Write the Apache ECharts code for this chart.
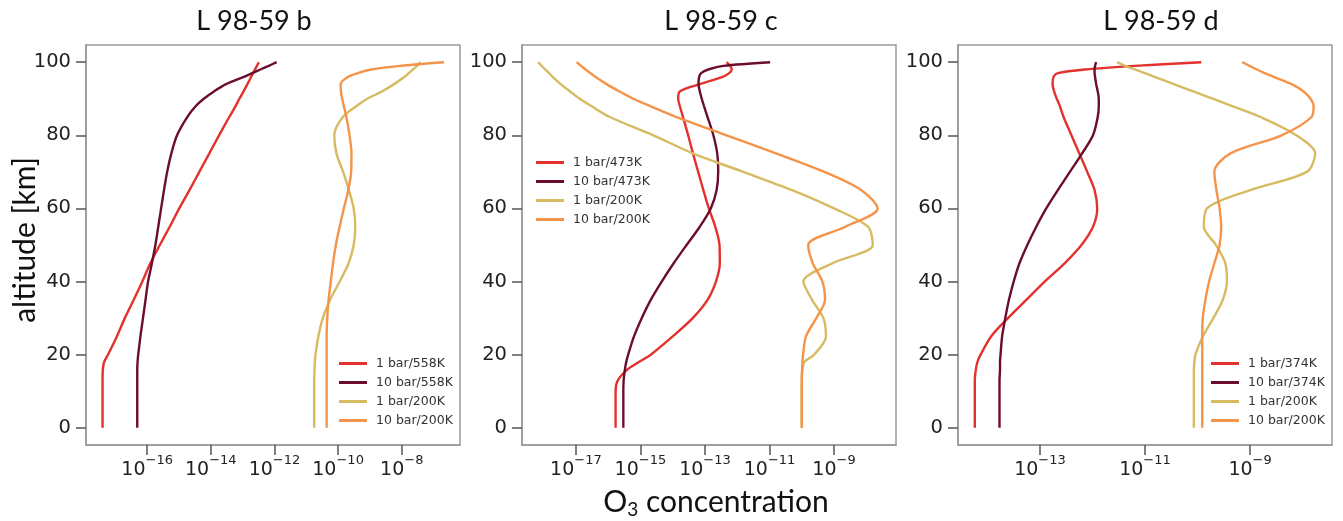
<!DOCTYPE html>
<html>
<head>
<meta charset="utf-8">
<script src="https://cdn.jsdelivr.net/npm/echarts@6/dist/echarts.min.js"></script>
<style>
  html, body { margin: 0; padding: 0; background: #fff; }
  #main { width: 1343px; height: 521px; }
</style>
</head>
<body>
<div id="main"></div>
<script>
// altitude levels [km], shared by every profile
const altitudes = [0, 5, 10, 13, 16, 18, 20, 25, 30, 35, 40, 45, 50, 55, 60, 65, 70, 75, 80, 85, 88, 90, 92, 94, 96, 97, 98, 99, 100]

// log10 of O3 concentration
// L 98-59 b
const b_1bar558 = [-17.40, -17.40, -17.40, -17.40, -17.39, -17.35, -17.23, -16.95, -16.70, -16.42, -16.15, -15.90, -15.60, -15.29, -14.99, -14.67, -14.36, -14.05, -13.74, -13.42, -13.22, -13.10, -12.97, -12.85, -12.73, -12.67, -12.61, -12.55, -12.49]
const b_10bar558 = [-16.31, -16.31, -16.31, -16.31, -16.31, -16.30, -16.28, -16.21, -16.13, -16.05, -15.97, -15.85, -15.74, -15.65, -15.56, -15.47, -15.37, -15.24, -15.06, -14.74, -14.47, -14.22, -13.90, -13.52, -12.96, -12.70, -12.44, -12.18, -11.93]
const b_1bar200 = [-10.75, -10.75, -10.75, -10.75, -10.74, -10.73, -10.71, -10.62, -10.48, -10.25, -9.95, -9.67, -9.51, -9.46, -9.51, -9.66, -9.84, -10.05, -10.12, -9.85, -9.42, -9.08, -8.62, -8.24, -7.91, -7.78, -7.65, -7.52, -7.41]
const b_10bar200 = [-10.36, -10.36, -10.36, -10.36, -10.36, -10.36, -10.36, -10.36, -10.34, -10.30, -10.23, -10.16, -10.07, -9.95, -9.82, -9.68, -9.59, -9.58, -9.64, -9.74, -9.82, -9.87, -9.91, -9.92, -9.68, -9.38, -8.96, -8.05, -6.67]
// L 98-59 c
const c_1bar473 = [-15.77, -15.77, -15.77, -15.70, -15.40, -15.05, -14.68, -14.00, -13.38, -12.92, -12.66, -12.54, -12.55, -12.68, -12.88, -13.05, -13.21, -13.37, -13.52, -13.68, -13.78, -13.83, -13.78, -13.15, -12.45, -12.25, -12.17, -12.22, -12.33]
const c_10bar473 = [-15.53, -15.53, -15.53, -15.52, -15.48, -15.44, -15.38, -15.20, -14.96, -14.68, -14.34, -13.97, -13.57, -13.16, -12.82, -12.64, -12.59, -12.62, -12.74, -12.92, -13.03, -13.10, -13.16, -13.20, -13.18, -13.12, -12.90, -12.43, -10.98]
const c_1bar200 = [-10.00, -10.00, -10.00, -10.00, -9.98, -9.92, -9.62, -9.25, -9.33, -9.68, -9.95, -9.05, -7.80, -7.95, -9.00, -10.30, -11.81, -13.36, -14.60, -15.95, -16.52, -16.88, -17.18, -17.47, -17.72, -17.83, -17.95, -18.06, -18.17]
const c_10bar200 = [-10.00, -10.00, -10.00, -10.00, -9.99, -9.98, -9.96, -9.87, -9.55, -9.28, -9.36, -9.66, -9.80, -8.65, -7.65, -8.15, -9.30, -10.78, -12.33, -13.88, -14.70, -15.22, -15.65, -16.05, -16.40, -16.55, -16.70, -16.84, -16.98]
// L 98-59 d
const d_1bar374 = [-14.24, -14.24, -14.24, -14.24, -14.22, -14.19, -14.13, -13.93, -13.61, -13.26, -12.91, -12.53, -12.21, -11.99, -11.91, -11.96, -12.10, -12.25, -12.40, -12.55, -12.62, -12.68, -12.73, -12.76, -12.74, -12.66, -12.14, -11.20, -9.93]
const d_10bar374 = [-13.77, -13.77, -13.77, -13.77, -13.76, -13.76, -13.75, -13.72, -13.66, -13.59, -13.50, -13.39, -13.24, -13.07, -12.88, -12.66, -12.43, -12.20, -11.99, -11.90, -11.88, -11.88, -11.90, -11.93, -11.95, -11.96, -11.96, -11.95, -11.93]
const d_1bar200 = [-10.07, -10.07, -10.07, -10.07, -10.07, -10.06, -10.04, -9.90, -9.70, -9.52, -9.44, -9.47, -9.65, -9.88, -9.82, -9.00, -7.92, -7.76, -8.12, -8.80, -9.34, -9.71, -10.08, -10.45, -10.82, -11.00, -11.19, -11.38, -11.53]
const d_10bar200 = [-9.91, -9.91, -9.91, -9.91, -9.91, -9.91, -9.91, -9.91, -9.90, -9.85, -9.78, -9.68, -9.58, -9.55, -9.58, -9.64, -9.68, -9.38, -8.40, -7.83, -7.79, -7.85, -7.98, -8.21, -8.55, -8.72, -8.87, -9.01, -9.15]

// tick labels
const altTicks = [0, 20, 40, 60, 80, 100]
const bTicks = [-16, -14, -12, -10, -8]
const cTicks = [-17, -15, -13, -11, -9]
const dTicks = [-13, -11, -9]

const titles = ['L 98-59 b', 'L 98-59 c', 'L 98-59 d']
const namesB = ['1 bar/558K', '10 bar/558K', '1 bar/200K', '10 bar/200K']
const namesC = ['1 bar/473K', '10 bar/473K', '1 bar/200K', '10 bar/200K']
const namesD = ['1 bar/374K', '10 bar/374K', '1 bar/200K', '10 bar/200K']

const colors = ['#e3312d', '#6b0d2e', '#d6bb62', '#f4944a']

// panel layout
const panels = [
  { left: 86, xmin: -17.92, xmax: -6.17, ticks: bTicks, names: namesB, data: [b_1bar558, b_10bar558, b_1bar200, b_10bar200], titleX: 254, legend: { left: 334, top: 351 } },
  { left: 522, xmin: -18.67, xmax: -7.08, ticks: cTicks, names: namesC, data: [c_1bar473, c_10bar473, c_1bar200, c_10bar200], titleX: 721, legend: { left: 531, top: 150 } },
  { left: 958, xmin: -14.56, xmax: -7.44, ticks: dTicks, names: namesD, data: [d_1bar374, d_10bar374, d_1bar200, d_10bar200], titleX: 1161, legend: { left: 1206, top: 351 } }
]

const tickFont = 'DejaVu Sans'
const supMinus = (v) => '{b|10}{s|\u2212' + Math.abs(Math.round(v)) + '}'

const chartDom = document.getElementById('main')
const myChart = echarts.init(chartDom, null, { renderer: 'canvas' })

const grid = []
const xAxis = []
const yAxis = []
const series = []
const legend = []
const graphic = []

panels.forEach((p, i) => {
  grid.push({
    left: p.left, top: 45, width: 374, height: 400,
    show: true, borderColor: '#9a9a9a', borderWidth: 1.5, backgroundColor: 'transparent'
  })
  xAxis.push({
    type: 'value', gridIndex: i, min: p.xmin, max: p.xmax, position: 'bottom',
    axisLine: { show: true, onZero: false, lineStyle: { color: '#9a9a9a', width: 1.5 } },
    splitLine: { show: false },
    axisTick: { show: true, inside: false, length: 10, customValues: p.ticks, lineStyle: { color: '#555', width: 1.5 } },
    axisLabel: {
      customValues: p.ticks, margin: 9,
      formatter: (v) => supMinus(v),
      rich: {
        b: { fontFamily: tickFont, fontSize: 19, color: '#222', lineHeight: 26, verticalAlign: 'bottom' },
        s: { fontFamily: tickFont, fontSize: 13, color: '#222', lineHeight: 13, verticalAlign: 'top' }
      }
    }
  })
  yAxis.push({
    type: 'value', gridIndex: i, min: -4.7, max: 104.7, position: 'left',
    axisLine: { show: true, onZero: false, lineStyle: { color: '#9a9a9a', width: 1.5 } },
    splitLine: { show: false },
    axisTick: { show: true, inside: false, length: 10, customValues: altTicks, lineStyle: { color: '#555', width: 1.5 } },
    axisLabel: { customValues: altTicks, margin: 15, fontFamily: tickFont, fontSize: 19.5, color: '#222' }
  })
  p.data.forEach((vals, k) => {
    series.push({
      name: p.names[k],
      type: 'line',
      xAxisIndex: i, yAxisIndex: i,
      data: altitudes.map((a, j) => [vals[j], a]),
      smooth: 0.3,
      showSymbol: false,
      symbol: 'none',
      color: colors[k],
      lineStyle: { color: colors[k], width: 2.4 },
      animation: false
    })
  })
  legend.push({
    data: p.names.map((n) => ({ name: n, icon: 'rect' })),
    orient: 'vertical', left: p.legend.left, top: p.legend.top,
    itemWidth: 28, itemHeight: 3, itemGap: 4,
    selectedMode: false,
    textStyle: { fontFamily: tickFont, fontSize: 12.5, color: '#333', lineHeight: 15, padding: [0, 0, 0, 4] }
  })
  graphic.push({
    type: 'text', x: p.titleX, y: 21,
    style: { text: titles[i], font: '27px Lato', fill: '#111', align: 'center', verticalAlign: 'middle' }
  })
})

graphic.push({
  type: 'text', x: 25, y: 240, rotation: Math.PI / 2,
  style: { text: 'altitude [km]', font: '30px Lato', fill: '#111', align: 'center', verticalAlign: 'middle' }
})
graphic.push({
  type: 'text', x: 716, y: 502,
  style: {
    text: '{n|O}{sub|3}{n| concentration}', align: 'center', verticalAlign: 'middle',
    rich: {
      n: { fontFamily: 'Lato', fontSize: 30, fill: '#111', lineHeight: 34 },
      sub: { fontFamily: 'Lato', fontSize: 19, fill: '#111', lineHeight: 19, verticalAlign: 'bottom' }
    }
  }
})

const option = {
  backgroundColor: '#fff',
  animation: false,
  grid, xAxis, yAxis, series, legend, graphic
}
option && myChart.setOption(option)
</script>
</body>
</html>
